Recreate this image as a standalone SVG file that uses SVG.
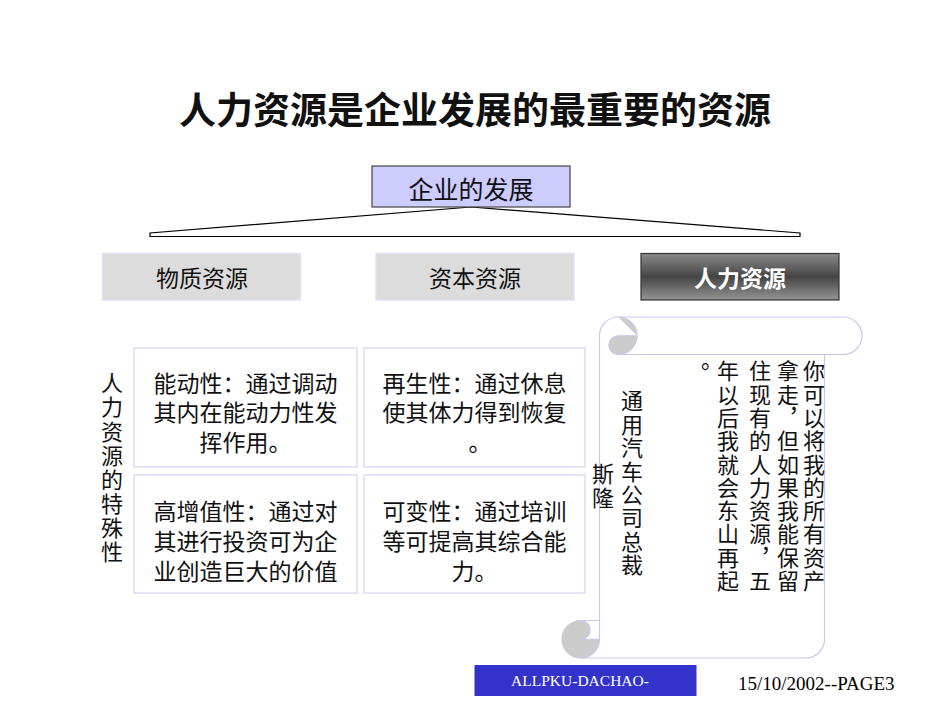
<svg xmlns="http://www.w3.org/2000/svg" width="950" height="713" viewBox="0 0 950 713">
<style>
.cjk{font-family:"Noto Sans CJK SC","Noto Sans",sans-serif;dominant-baseline:central;fill:#111}
.vt{font-family:"Noto Sans CJK SC","Noto Sans",sans-serif;writing-mode:vertical-rl;fill:#111;font-size:22px}
.box{fill:#fff;stroke:#dcdcf2;stroke-width:1.5}
.gbox{fill:#dcdcdc;stroke:#e0e0f4;stroke-width:1.5}
.scr{fill:none;stroke:#c8c8ee;stroke-width:1.2}
.curl{fill:#cccccc}
</style>
<defs>
<linearGradient id="dark" x1="0" y1="0" x2="0" y2="1">
<stop offset="0" stop-color="#8a8a8a"/>
<stop offset="0.5" stop-color="#444444"/>
<stop offset="1" stop-color="#959595"/>
</linearGradient>
</defs>
<rect width="950" height="713" fill="#fff"/>
<text class="cjk" x="475" y="108" text-anchor="middle" font-size="37" font-weight="bold" fill="#000">人力资源是企业发展的最重要的资源</text>

<g id="connectors">
<polygon points="471,207 150,233 150,236.5 800,236.5 800,233" fill="none" stroke="#000" stroke-width="1.2"/>
</g>

<g id="node-dev">
<rect x="372" y="166" width="198" height="41" fill="#ccccff" stroke="#444" stroke-width="1.2"/>
<text class="cjk" x="471" y="188" text-anchor="middle" font-size="25">企业的发展</text>
</g>
<g id="node-material">
<rect class="gbox" x="102.5" y="253.5" width="198" height="46.5"/>
<text class="cjk" x="202" y="277" text-anchor="middle" font-size="23" fill="#222">物质资源</text>
</g>
<g id="node-capital">
<rect class="gbox" x="376" y="253.5" width="198" height="46.5"/>
<text class="cjk" x="475" y="277" text-anchor="middle" font-size="23" fill="#222">资本资源</text>
</g>
<g id="node-human">
<rect x="641" y="253.5" width="198" height="46.5" fill="url(#dark)" stroke="#333" stroke-width="1.2"/>
<text class="cjk" x="740" y="277" text-anchor="middle" font-size="23" font-weight="bold" style="fill:#fff">人力资源</text>
</g>

<g id="label-traits">
<text class="vt" x="112" y="372" letter-spacing="2.1">人力资源的特殊性</text>
</g>

<g id="node-b1">
<rect class="box" x="134" y="348" width="223" height="119"/>
<text class="cjk" font-size="23" text-anchor="middle"><tspan x="245.5" y="382">能动性：通过调动</tspan><tspan x="245.5" y="411">其内在能动力性发</tspan><tspan x="245.5" y="441">挥作用。</tspan></text>
</g>
<g id="node-b2">
<rect class="box" x="364" y="348" width="221" height="119"/>
<text class="cjk" font-size="23" text-anchor="middle"><tspan x="474.5" y="382">再生性：通过休息</tspan><tspan x="474.5" y="411">使其体力得到恢复</tspan><tspan x="480" y="441">。</tspan></text>
</g>
<g id="node-b3">
<rect class="box" x="134" y="475" width="223" height="118"/>
<text class="cjk" font-size="23" text-anchor="middle"><tspan x="245.5" y="510">高增值性：通过对</tspan><tspan x="245.5" y="540">其进行投资可为企</tspan><tspan x="245.5" y="570">业创造巨大的价值</tspan></text>
</g>
<g id="node-b4">
<rect class="box" x="364" y="475" width="221" height="118"/>
<text class="cjk" font-size="23" text-anchor="middle"><tspan x="474.5" y="510">可变性：通过培训</tspan><tspan x="474.5" y="540">等可提高其综合能</tspan><tspan x="474.5" y="570">力。</tspan></text>
</g>

<g id="node-scroll">
<path d="M599.5,620.5 L599.5,335.75 A18.75,18.75 0 0 1 618.25,317 L843.25,317 A18.75,18.75 0 0 1 843.25,354.5 L824.5,354.5 L824.5,639.25 A18.75,18.75 0 0 1 805.75,658 L580.75,658 A18.75,18.75 0 0 1 580.75,620.5 Z" fill="#fff" stroke="#c8c8ee" stroke-width="1.2"/>
<path class="curl" d="M637,335.75 A18.75,18.75 0 0 1 618.25,354.5 A9.375,9.375 0 0 1 618.25,335.75 Z"/>
<path class="curl" d="M618.25,317 A18.75,18.75 0 0 1 637,335.75 Z"/>
<path class="curl" d="M599.5,639.25 A18.75,18.75 0 1 1 580.75,620.5 A9.375,9.375 0 0 1 580.75,639.25 Z"/>
<path class="scr" d="M618.25,317 A18.75,18.75 0 0 1 618.25,354.5 A9.375,9.375 0 0 1 618.25,335.75 L637,335.75 M824.5,354.5 L618.25,354.5 M580.75,620.5 A9.375,9.375 0 0 1 580.75,639.25 L599.5,639.25 M580.75,658 A18.75,18.75 0 0 0 599.5,639.25 L599.5,620.5"/>
<text class="vt" x="814" y="360" letter-spacing="1.3">你可以将我的所有资产</text>
<text class="vt" x="788" y="360" letter-spacing="1.3">拿走，但如果我能保留</text>
<text class="vt" x="760" y="360" letter-spacing="1.3">住现有的人力资源，五</text>
<text class="vt" x="728" y="360" letter-spacing="1.3">年以后我就会东山再起</text>
<text class="cjk" x="712" y="358" font-size="22" text-anchor="middle">。</text>
<text class="vt" x="632" y="390" letter-spacing="1.4">通用汽车公司总裁</text>
<text class="vt" x="603" y="463" letter-spacing="1.4">斯隆</text>
</g>

<g id="footer">
<rect x="474.5" y="665" width="222" height="31" fill="#3333cc"/>
<text x="580" y="686" text-anchor="middle" font-family="Liberation Serif, serif" font-size="15.5" fill="#fff">ALLPKU-DACHAO-</text>
<text x="738" y="690" font-family="Liberation Serif, serif" font-size="19" fill="#000">15/10/2002--PAGE3</text>
</g>
</svg>
